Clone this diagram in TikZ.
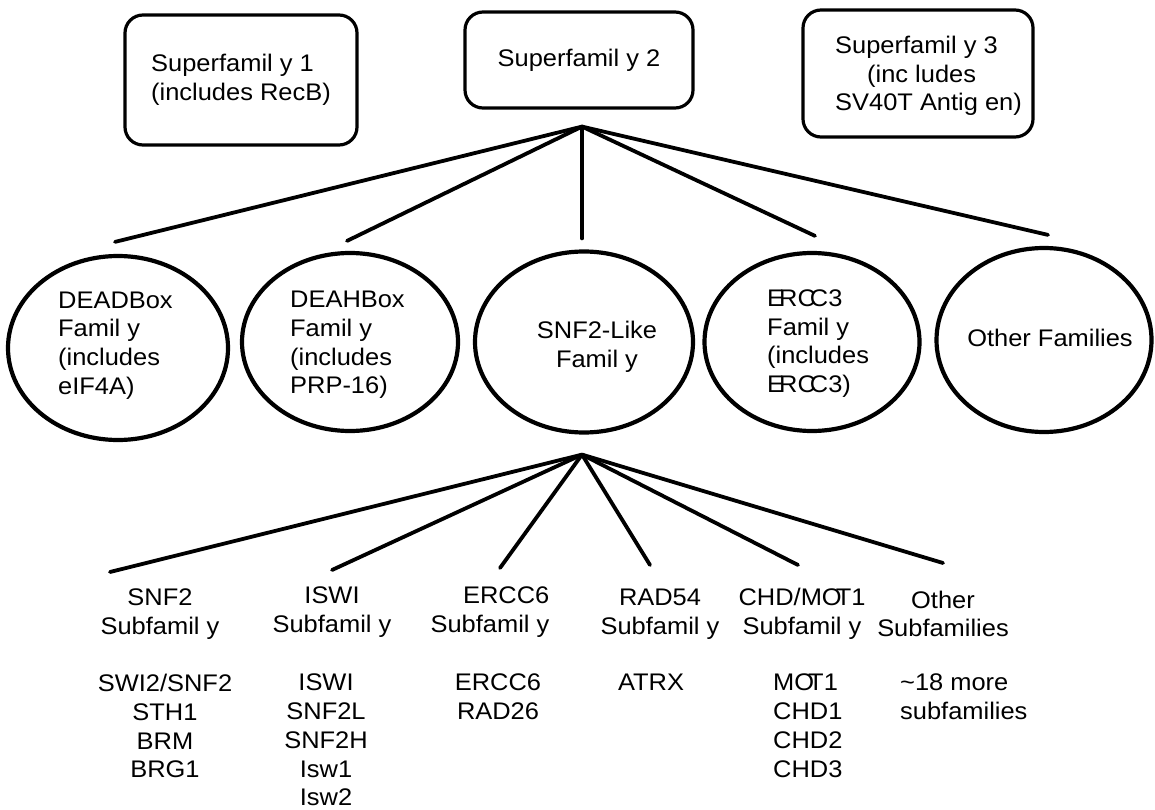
\documentclass[tikz,border=0pt]{standalone}
\usepackage{fontspec}
\setmainfont{Liberation Sans}[FakeStretch=1.06]
\usetikzlibrary{shapes.geometric,calc}
\begin{document}
\begin{tikzpicture}[x=1pt,y=-1pt,
  every node/.style={font=\fontsize{24}{28.7}\selectfont, inner sep=0pt},
  supbox/.style={draw, line width=3.2pt, rounded corners=18pt},
  famell/.style={draw, ellipse, line width=4.2pt},
  conn/.style={line width=3.8pt, line cap=round}]
\useasboundingbox (0,0) rectangle (1155,810);

% superfamily boxes
\node[supbox, minimum width=232pt, minimum height=130pt, align=left] (b1) at (241,80) {Superfamil y 1\\(includes RecB)};
\node[supbox, minimum width=228pt, minimum height=96pt] (b2) at (579,60) {Superfamil y 2};
\node[supbox, minimum width=230pt, minimum height=127pt] (b3) at (918,73.5) {};
\node[align=left, anchor=west] (b3t) at (835,76) {Superfamil y 3\\\hspace*{32pt}(inc ludes\\SV40T Antig en)};

% family ellipses
\node[famell, minimum width=220pt, minimum height=184pt] (e1) at (118,348) {};
\node[famell, minimum width=216pt, minimum height=178pt] (e2) at (350,342) {};
\node[famell, minimum width=218pt, minimum height=181pt] (e3) at (584,342) {};
\node[famell, minimum width=215pt, minimum height=178pt] (e4) at (812,342) {};
\node[famell, minimum width=215pt, minimum height=184pt] (e5) at (1044,340) {};

\node[align=left, anchor=west] (t1) at (58,345.5) {DEADBox\\Famil y\\(includes\\eIF4A)};
\node[align=left, anchor=west] (t2) at (290,345) {DEAHBox\\Famil y\\(includes\\PRP-16)};
\node[align=center] (t3) at (597,347) {SNF2-Like\\Famil y};
\node[align=left, anchor=west] (t4) at (767,343.5) {E\kern-5pt RC\kern-6pt C3\\Famil y\\(includes\\E\kern-5pt RC\kern-6pt C3)};
\node (t5) at (1050,338) {Other Families};

% hubs
\coordinate (h1) at ($(b2.south)+(3,17)$);
\coordinate (h2) at ($(e3.south)+(-2,20)$);

\foreach \e/\dx/\dy in {e1/-3/12, e2/-3/10, e3/-2/11, e4/3/15, e5/4/11}
  \draw[conn] (h1) -- ($(\e.north)+(\dx,-\dy)$);

% subfamily titles
\node[align=center] (st1) at (160,614) {SNF2\\Subfamil y};
\node[align=center] (st2) at (332,612) {ISWI\\Subfamil y};
\node[align=right]  (st3) at (490,612) {ERCC6\\Subfamil y};
\node[align=center] (st4) at (660,614) {RAD54\\Subfamil y};
\node[align=center] (st5) at (802,614) {CHD/MO\kern-6pt T1\\Subfamil y};
\node[align=center] (st6) at (943,614) {Other\\Subfamilies};

% member lists
\node[align=center, anchor=north] (sl1) at (165,674) {SWI2/SNF2\\STH1\\BRM\\BRG1};
\node[align=center, anchor=north] (sl2) at (326,674) {ISWI\\SNF2L\\SNF2H\\Isw1\\Isw2};
\node[align=center, anchor=north] (sl3) at (498,674) {ERCC6\\RAD26};
\node[align=center, anchor=north] (sl4) at (651,674) {ATRX};
\node[align=left, anchor=north west] (sl5) at (773,674) {MO\kern-6pt T1\\CHD1\\CHD2\\CHD3};
\node[align=left, anchor=north west] (sl6) at (900,674) {\textasciitilde18 more\\subfamilies};

% connector ends above subfamilies
\coordinate (a1) at (110,572);
\coordinate (a2) at (332,570);
\coordinate (a3) at (500,568);
\coordinate (a4) at (650,565);
\coordinate (a5) at (798,565);
\coordinate (a6) at (943,563);
\foreach \a in {a1,a2,a3,a4,a5,a6}
  \draw[conn] (h2) -- (\a);
\end{tikzpicture}
\end{document}
